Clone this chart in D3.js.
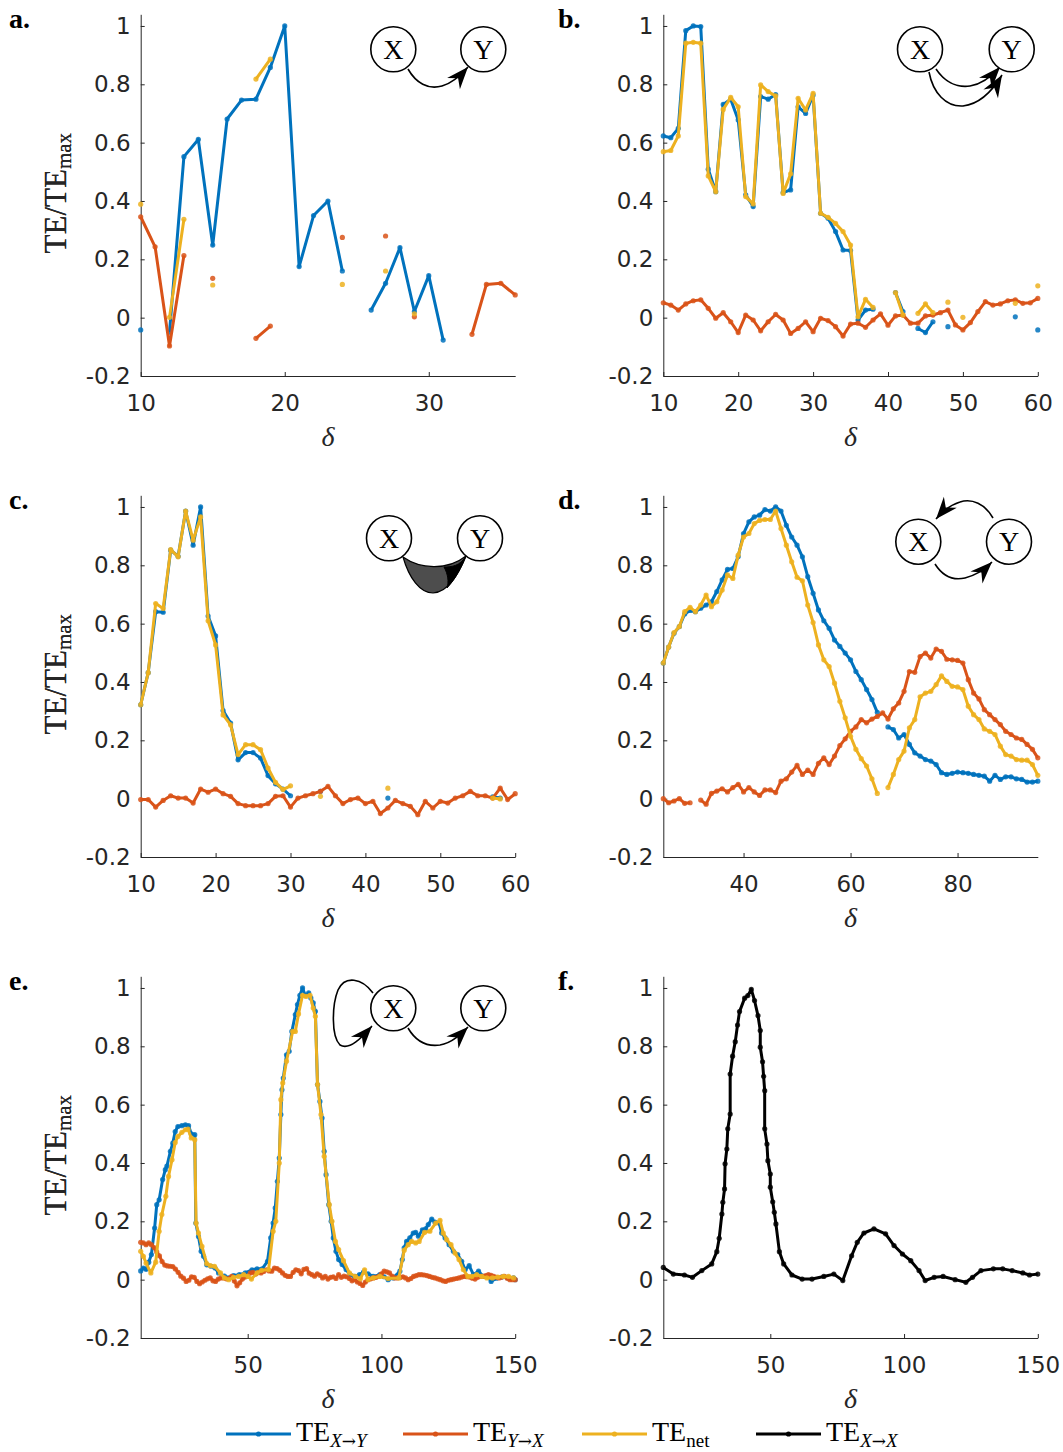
<!DOCTYPE html>
<html>
<head>
<meta charset="utf-8">
<script src="https://cdn.jsdelivr.net/npm/d3@7"></script>
<style>
body { margin: 0; background: #fff; }
</style>
</head>
<body>
<svg id="fig"></svg>
<script>
// ---- data ----
var yTicks = [-0.2, 0, 0.2, 0.4, 0.6, 0.8, 1];

// panel a, delta = 10..36
var aDelta = d3.range(10, 37);
var aBlue = [-0.042, null, -0.05, 0.552, 0.611, 0.249, 0.681, 0.746, 0.749, 0.858, 1.0, 0.175, 0.35, 0.4, 0.16, null, 0.026, 0.118, 0.24, 0.021, 0.144, -0.077, null, null, null, null, null];
var aRed = [0.346, 0.243, -0.097, 0.213, null, 0.135, null, null, -0.071, -0.029, null, null, null, null, 0.275, null, null, 0.28, null, 0.003, null, null, null, -0.057, 0.114, 0.118, 0.078];
var aNet = [0.389, null, 0.001, 0.337, null, 0.112, null, null, 0.818, 0.886, null, null, null, null, 0.114, null, null, 0.16, null, 0.013, null, null, null, null, null, null, null];

// panel b, delta = 10..60
var bDelta = d3.range(10, 61);
var bBlue = [0.623, 0.617, 0.649, 0.984, 1.0, 0.998, 0.509, 0.432, 0.731, 0.749,
    0.678, 0.421, 0.381, 0.758, 0.749, 0.765, 0.429, 0.438, 0.723, 0.70,
    0.763, 0.358, 0.341, 0.295, 0.232, 0.230, -0.008, 0.026, 0.029, null,
    null, 0.086, 0.021, null, -0.037, -0.051, -0.014, null, -0.031, null,
    null, null, null, null, null, null, null, 0.003, null, null,
    -0.042];
var bRed = [0.051, 0.043, 0.026, 0.047, 0.058, 0.061, 0.032, -0.002, 0.017, -0.014,
    -0.051, 0.009, -0.008, -0.045, -0.014, 0.011, -0.008, -0.054, -0.037, -0.014,
    -0.048, -0.002, -0.010, -0.031, -0.063, -0.022, -0.019, -0.033, -0.008, 0.013,
    -0.026, 0.006, 0.009, -0.019, -0.019, 0.006, 0.009, 0.017, 0.026, -0.025,
    -0.042, -0.017, 0.021, 0.055, 0.043, 0.047, 0.058, 0.061, 0.049, 0.051,
    0.066];
var bNet = [0.569, 0.573, 0.623, 0.941, 0.944, 0.941, 0.486, 0.432, 0.714, 0.755,
    0.723, 0.415, 0.39, 0.798, 0.775, 0.76, 0.426, 0.493, 0.752, 0.712,
    0.769, 0.358, 0.344, 0.323, 0.295, 0.249, 0.003, 0.063, 0.035, null,
    null, 0.086, 0.009, null, 0.015, 0.047, 0.017, null, 0.053, null,
    0.001, null, null, null, null, null, null, 0.049, null, null,
    0.109];

// panel c, delta = 10..60
var cDelta = d3.range(10, 61);
var cBlue = [0.322, 0.432, 0.641, 0.639, 0.852, 0.831, 0.986, 0.869, 1.0, 0.626,
    0.558, 0.302, 0.259, 0.133, 0.158, 0.158, 0.139, 0.079, 0.051, 0.033,
    0.01, null, null, null, 0.025, null, null, null, null, null,
    null, null, null, 0.002, null, null, null, null, null, null,
    null, null, null, null, null, null, null, 0.006, 0.002, null,
    null];
var cRed = [-0.003, -0.003, -0.029, -0.006, 0.01, 0.002, 0.002, -0.015, 0.033, 0.022,
    0.033, 0.017, 0.008, -0.017, -0.024, -0.024, -0.024, -0.017, 0.008, 0.01,
    -0.029, 0.002, 0.01, 0.017, 0.025, 0.042, 0.01, -0.017, -0.003, 0.002,
    -0.017, -0.009, -0.051, -0.032, -0.006, -0.017, -0.026, -0.055, -0.009, -0.032,
    -0.009, -0.015, 0.002, 0.01, 0.025, 0.01, 0.01, 0.002, 0.036, -0.003,
    0.017];
var cNet = [0.322, 0.432, 0.669, 0.652, 0.854, 0.829, 0.986, 0.886, 0.966, 0.61,
    0.527, 0.287, 0.253, 0.151, 0.185, 0.185, 0.168, 0.105, 0.056, 0.031,
    0.044, null, null, null, 0.008, null, null, null, null, null,
    null, null, null, 0.036, null, null, null, null, null, null,
    null, null, null, null, null, null, null, 0.002, -0.001, null,
    null];

// panel d, delta = 25..95
var dDelta = d3.range(25, 96);
var dBlue = [0.465, 0.52, 0.567, 0.59, 0.633, 0.645, 0.641, 0.653, 0.664, 0.675,
    0.71, 0.75, 0.786, 0.789, 0.83, 0.909, 0.949, 0.966, 0.972, 0.991,
    0.986, 1.0, 0.986, 0.937, 0.897, 0.869, 0.829, 0.761, 0.704, 0.647,
    0.61, 0.584, 0.544, 0.522, 0.499, 0.476, 0.436, 0.408, 0.374, 0.34,
    0.296, null, 0.246, 0.237, 0.208, 0.22, 0.186, 0.157, 0.146, 0.134,
    0.129, 0.117, 0.089, 0.083, 0.087, 0.091, 0.089, 0.087, 0.083, 0.08,
    0.077, 0.06, 0.08, 0.066, 0.075, 0.075, 0.068, 0.066, 0.057, 0.057,
    0.06];
var dRed = [0.0, -0.014, -0.008, 0.0, -0.016, -0.014, null, -0.005, -0.019, 0.018,
    0.026, 0.034, 0.023, 0.038, 0.049, 0.023, 0.038, 0.023, 0.011, 0.03,
    0.03, 0.021, 0.06, 0.068, 0.091, 0.114, 0.083, 0.098, 0.083, 0.121,
    0.14, 0.117, 0.146, 0.182, 0.205, 0.231, 0.246, 0.271, 0.26, 0.273,
    0.282, 0.294, 0.273, 0.308, 0.328, 0.368, 0.436, 0.433, 0.487, 0.499,
    0.482, 0.513, 0.505, 0.478, 0.476, 0.474, 0.465, 0.408, 0.362, 0.342,
    0.305, 0.288, 0.271, 0.254, 0.231, 0.22, 0.208, 0.203, 0.186, 0.169,
    0.14];
var dNet = [0.465, 0.52, 0.569, 0.59, 0.641, 0.656, 0.641, 0.664, 0.698, 0.658,
    0.675, 0.715, 0.767, 0.755, 0.835, 0.897, 0.909, 0.943, 0.954, 0.957,
    0.957, 0.986, 0.926, 0.869, 0.812, 0.759, 0.747, 0.664, 0.604, 0.527,
    0.476, 0.453, 0.396, 0.334, 0.277, 0.214, 0.169, 0.137, 0.112, 0.068,
    0.018, null, 0.038, 0.083, 0.134, 0.163, 0.243, 0.271, 0.349, 0.362,
    0.368, 0.391, 0.421, 0.402, 0.385, 0.383, 0.374, 0.317, 0.288, 0.271,
    0.239, 0.231, 0.22, 0.18, 0.151, 0.146, 0.134, 0.132, 0.132, 0.117,
    0.08];

// panel e (uneven delta sampling)
var eBlueDelta = [10, 11, 12, 13, 14, 15.2, 16.0, 16.9, 18.2, 19.2, 19.8, 21.1, 22.0, 22.9, 23.9, 25.4, 26.7, 27.9, 28.9, 30.2,
    30.6, 31.6, 32.6, 33.5, 34.7, 36.3, 37.8, 39.1, 41.3, 42.9, 44.7, 46.9, 49.1, 51.6, 53.5, 55.4, 57.4, 58.6, 59.5, 60.3,
    61.1, 61.8, 62.4, 62.8, 63.3, 64.5, 65.5, 66.5, 67.8, 68.6, 69.5, 70.5, 71.5, 72.8, 73.6, 74.5, 75.3, 76.1, 77.0, 77.8,
    78.6, 79.3, 80.3, 81.2, 82.0, 83.0, 84.0, 85.3, 86.8, 88.3, 89.9, 91.8, 93.3, 95, 96.9, 99.4, 101, 102.5, 104.4, 106.9,
    107.8, 108.5, 109.4, 110.6, 111.9, 112.8, 113.8, 115.3, 116.5, 117.5, 118.8, 120, 121.6, 122.5, 123.8, 125.3, 126.9, 128.5, 130, 131.3,
    132.8, 134.4, 136.3, 138.1, 139.7, 141, 143, 145, 147.3, 149.4, 150];
var eBlue = [0.03, 0.04, 0.035, 0.06, 0.086, 0.177, 0.257, 0.274, 0.343, 0.377, 0.389, 0.44, 0.468, 0.508, 0.525, 0.528, 0.531, 0.528, 0.5, 0.497,
    0.194, 0.148, 0.097, 0.08, 0.051, 0.046, 0.04, 0.023, 0.012, 0.006, 0.014, 0.017, 0.023, 0.034, 0.037, 0.037, 0.063, 0.143, 0.194, 0.246,
    0.337, 0.417, 0.566, 0.651, 0.691, 0.771, 0.783, 0.851, 0.909, 0.943, 0.975, 1.0, 0.975, 0.983, 0.966, 0.949, 0.92, 0.669, 0.611, 0.554,
    0.44, 0.36, 0.257, 0.2, 0.143, 0.097, 0.069, 0.052, 0.034, 0.017, 0.011, 0.017, 0.026, 0.02, 0.011, 0.017, 0.01, 0.0, 0.006, 0.029,
    0.069, 0.109, 0.131, 0.143, 0.16, 0.162, 0.149, 0.171, 0.174, 0.189, 0.208, 0.197, 0.194, 0.16, 0.143, 0.12, 0.097, 0.086, 0.063, 0.034,
    0.048, 0.017, 0.029, 0.011, 0.011, -0.006, 0.005, 0.009, 0.006, 0.006, 0.0];
var eNetDelta = [10, 11, 12, 13.8, 15.6, 16.9, 17.9, 19.4, 20.4, 21.7, 22.9, 23.9, 25.4, 26.7, 27.7, 28.9, 30.2, 30.7, 31.6, 32.9,
    34.7, 36, 37.6, 39.8, 41.3, 42.9, 44.7, 46.6, 48.5, 50.1, 51.4, 53.5, 55.2, 57.8, 59.5, 60.5, 61.8, 62.4, 63.1, 64.5,
    66.8, 67.8, 69, 70.5, 71.8, 73.3, 74.5, 75.3, 76.1, 77.4, 78.6, 80.5, 81.5, 82.8, 84, 85.8, 88, 90.3, 92.1, 93.7,
    95, 96.9, 99.4, 102.5, 106.5, 108.5, 110, 111.3, 112.8, 114.1, 116.1, 118.1, 120.3, 121.9, 123.1, 124.4, 126, 127.5, 129, 130.6,
    132.3, 133.8, 135.6, 137.5, 139.4, 141.5, 143.5, 145.6, 147.5, 149.4];
var eNet = [0.097, 0.08, 0.057, 0.023, 0.06, 0.166, 0.223, 0.286, 0.354, 0.411, 0.47, 0.491, 0.505, 0.514, 0.516, 0.486, 0.48, 0.194, 0.16, 0.114,
    0.055, 0.048, 0.046, 0.023, 0.006, 0.0, 0.008, 0.011, 0.017, 0.011, 0.002, 0.023, 0.032, 0.034, 0.166, 0.2, 0.4, 0.617, 0.674, 0.749,
    0.851, 0.851, 0.911, 0.975, 0.971, 0.975, 0.931, 0.903, 0.669, 0.566, 0.423, 0.257, 0.2, 0.131, 0.103, 0.065, 0.023, 0.011, 0.003, 0.034,
    0.0, 0.006, 0.011, 0.004, 0.006, 0.101, 0.12, 0.131, 0.126, 0.131, 0.162, 0.166, 0.194, 0.203, 0.16, 0.137, 0.12, 0.091, 0.069, 0.034,
    0.011, 0.011, 0.017, 0.011, 0.006, 0.006, 0.009, 0.011, 0.011, 0.006];
var eRedDelta = d3.range(10, 151);
var eRed = [0.128, 0.126, 0.12, 0.126, 0.12, 0.11, 0.095, 0.082, 0.062, 0.05,
    0.047, 0.046, 0.045, 0.036, 0.025, 0.012, 0.005, -0.006, -0.002, 0.01,
    0.008, -0.006, -0.014, -0.008, -0.002, 0.003, 0.006, -0.004, -0.006, 0.002,
    0.006, 0.006, 0.003, 0.004, 0.011, -0.005, -0.021, -0.011, 0.002, 0.009,
    0.012, 0.023, 0.025, 0.019, 0.025, 0.023, 0.028, 0.034, 0.03, 0.029,
    0.04, 0.038, 0.032, 0.023, 0.015, 0.011, 0.011, 0.025, 0.034, 0.031,
    0.02, 0.035, 0.038, 0.022, 0.017, 0.012, 0.02, 0.015, 0.006, 0.011,
    0.002, 0.008, 0.01, 0.004, 0.017, 0.008, 0.012, 0.01, 0.004, -0.004,
    0.0, -0.008, -0.013, -0.02, -0.008, 0.0, 0.003, 0.006, 0.008, 0.011,
    0.02, 0.029, 0.027, 0.023, 0.012, 0.006, 0.006, 0.007, 0.01, 0.006,
    0.0, 0.004, 0.011, 0.014, 0.017, 0.017, 0.016, 0.014, 0.011, 0.008,
    0.006, 0.003, 0.0, -0.004, -0.006, -0.002, 0.0, 0.002, 0.004, 0.006,
    0.009, 0.011, 0.01, 0.009, 0.005, 0.002, 0.008, 0.011, 0.011, 0.014,
    0.017, 0.015, 0.011, 0.008, 0.006, 0.009, 0.011, 0.005, 0.0, 0.0,
    0.0];

// panel f
var fDelta = [10, 13.75, 17.9, 20.9, 24.4, 28.1, 30, 30.9, 31.9, 32.25, 32.9, 33.1, 33.75, 34.1, 35, 35, 35.9, 36.9, 37.75, 38.5,
    40.4, 41.6, 42.9, 44.1, 45.4, 46.25, 46.25, 47.1, 47.5, 47.9, 47.9, 48.75, 49.1, 50, 50, 50.9, 51.5, 52.1, 53.4, 55,
    58.1, 61.9, 65.6, 70, 73.75, 77.1, 80.4, 82.5, 85, 88.75, 93.1, 96.25, 99.4, 102.5, 105.6, 107.9, 111.25, 114.6, 119.1, 123.1,
    125.6, 128.75, 133.4, 136.9, 140.4, 144.4, 146.9, 150];
var fSelf = [0.042, 0.019, 0.016, 0.008, 0.031, 0.054, 0.096, 0.142, 0.225, 0.265, 0.311, 0.397, 0.448, 0.517, 0.568, 0.705, 0.766, 0.816, 0.873, 0.919,
    0.965, 0.974, 0.995, 0.957, 0.905, 0.854, 0.797, 0.747, 0.697, 0.648, 0.517, 0.465, 0.408, 0.362, 0.317, 0.267, 0.231, 0.191, 0.096, 0.054,
    0.016, 0.002, 0.002, 0.011, 0.019, -0.003, 0.082, 0.128, 0.16, 0.174, 0.157, 0.117, 0.088, 0.065, 0.031, -0.003, 0.008, 0.011, 0.0, -0.009,
    0.008, 0.031, 0.037, 0.037, 0.031, 0.023, 0.016, 0.019];

var colors = { blue: '#0072BD', red: '#D95319', net: '#EDB120', self: '#000000' };
var legendLabels = [
    { key: 'blue', sub: ['X', 'Y'] },
    { key: 'red', sub: ['Y', 'X'] },
    { key: 'net', sub: null },
    { key: 'self', sub: ['X', 'X'] }
];

// ---- layout ----
var width = 1063, height = 1452;
var colLeft = [140.7, 663.3], plotW = 374.5;
var rowStep = 481, yBottom0 = 376, yTop0 = 14.3;
var axisColor = '#262626';
var tickFont = "'DejaVu Sans', sans-serif";
var serif = "'Liberation Serif', 'DejaVu Serif', serif";
var lineW = 3, dotR = 2.6;

var panels = [
    { label: 'a.', col: 0, row: 0, xDomain: [10, 36], xTicks: [10, 20, 30],
      series: [[aDelta, aBlue, 'blue'], [aDelta, aRed, 'red'], [aDelta, aNet, 'net']] },
    { label: 'b.', col: 1, row: 0, xDomain: [10, 60], xTicks: [10, 20, 30, 40, 50, 60],
      series: [[bDelta, bBlue, 'blue'], [bDelta, bRed, 'red'], [bDelta, bNet, 'net']] },
    { label: 'c.', col: 0, row: 1, xDomain: [10, 60], xTicks: [10, 20, 30, 40, 50, 60],
      series: [[cDelta, cBlue, 'blue'], [cDelta, cRed, 'red'], [cDelta, cNet, 'net']] },
    { label: 'd.', col: 1, row: 1, xDomain: [25, 95], xTicks: [40, 60, 80],
      series: [[dDelta, dBlue, 'blue'], [dDelta, dRed, 'red'], [dDelta, dNet, 'net']] },
    { label: 'e.', col: 0, row: 2, xDomain: [10, 150], xTicks: [50, 100, 150],
      series: [[eBlueDelta, eBlue, 'blue'], [eRedDelta, eRed, 'red'], [eNetDelta, eNet, 'net']] },
    { label: 'f.', col: 1, row: 2, xDomain: [10, 150], xTicks: [50, 100, 150],
      series: [[fDelta, fSelf, 'self']] }
];

var svg = d3.select('#fig')
    .attr('width', width)
    .attr('height', height)
    .style('font-family', tickFont);

var defs = svg.append('defs');
defs.append('marker')
    .attr('id', 'arrow')
    .attr('viewBox', '-23 -9 24 18')
    .attr('refX', 0)
    .attr('refY', 0)
    .attr('markerUnits', 'userSpaceOnUse')
    .attr('markerWidth', 24)
    .attr('markerHeight', 18)
    .attr('orient', 'auto')
    .append('path')
    .attr('d', 'M0,0 L-22,-8.5 L-15,0 L-22,8.5 Z')
    .attr('fill', '#000');

panels.forEach(function (p) {
    var left = colLeft[p.col];
    var off = p.row * rowStep;
    var x = d3.scaleLinear().domain(p.xDomain).range([left, left + plotW]);
    var y = d3.scaleLinear().domain([-0.2, 1.04]).range([yBottom0 + off, yTop0 + off]);

    var g = svg.append('g');

    // axes (MATLAB style, ticks inward, no box)
    var yAxis = g.append('g')
        .attr('transform', 'translate(' + left + ',0)')
        .call(d3.axisLeft(y).tickValues(yTicks).tickSize(-4).tickSizeOuter(0).tickPadding(10)
            .tickFormat(function (d) { return String(d); }));
    var xAxis = g.append('g')
        .attr('transform', 'translate(0,' + (yBottom0 + off) + ')')
        .call(d3.axisBottom(x).tickValues(p.xTicks).tickSize(-4).tickSizeOuter(0).tickPadding(19)
            .tickFormat(function (d) { return String(d); }));
    [yAxis, xAxis].forEach(function (ax) {
        ax.attr('font-family', tickFont).attr('font-size', 23);
        ax.select('.domain').attr('stroke', axisColor);
        ax.selectAll('.tick line').attr('stroke', axisColor);
        ax.selectAll('.tick text').attr('fill', axisColor);
    });

    // axis labels
    var yl = g.append('text')
        .attr('transform', 'translate(66,' + ((yBottom0 + yTop0) / 2 + off - 2) + ') rotate(-90)')
        .attr('text-anchor', 'middle')
        .attr('font-family', serif)
        .attr('font-size', 31)
        .attr('fill', axisColor);
    yl.append('tspan').text('TE/TE');
    yl.append('tspan').attr('font-size', 21).attr('dy', 5).text('max');

    g.append('text')
        .attr('x', left + plotW / 2)
        .attr('y', 446 + off)
        .attr('text-anchor', 'middle')
        .attr('font-family', serif)
        .attr('font-style', 'italic')
        .attr('font-size', 28)
        .attr('fill', axisColor)
        .text('\u03b4');

    g.append('text')
        .attr('x', p.col === 0 ? 9 : 558)
        .attr('y', 28 + off)
        .attr('font-family', serif)
        .attr('font-weight', 'bold')
        .attr('font-size', 28)
        .attr('fill', '#000')
        .text(p.label);

    // series: blue, red, then yellow on top
    p.series.forEach(function (s) {
        var pts = s[0].map(function (d, i) { return [d, s[1][i]]; });
        var col = colors[s[2]];
        var line = d3.line()
            .defined(function (d) { return d[1] !== null; })
            .x(function (d) { return x(d[0]); })
            .y(function (d) { return y(d[1]); });
        g.append('path')
            .attr('d', line(pts))
            .attr('fill', 'none')
            .attr('stroke', col)
            .attr('stroke-width', lineW)
            .attr('stroke-linejoin', 'round');
        g.append('g').selectAll('circle')
            .data(pts.filter(function (d) { return d[1] !== null; }))
            .join('circle')
            .attr('cx', function (d) { return x(d[0]); })
            .attr('cy', function (d) { return y(d[1]); })
            .attr('r', dotR)
            .attr('fill', col)
            .attr('fill-opacity', 0.85);
    });
});

// ---- network sketches ----
var sk = svg.append('g').attr('stroke', '#000').attr('fill', 'none').attr('stroke-width', 1.6);

function arrowPath(d) {
    sk.append('path').attr('d', d).attr('marker-end', 'url(#arrow)');
}
// a: X -> Y
arrowPath('M408,69 C416,83 428,90 442,86 C453,83 461,75 468,67');
// b: two paths X -> Y
arrowPath('M936,69 C944,81 956,88 970,86 C983,84 992,76 1000,67');
arrowPath('M929,72 C933,93 946,107 963,106 C980,104 993,90 1002,75');
// c: filled wedge
sk.append('path')
    .attr('d', 'M403,557 C420,569 447,571 466,556 C458,574 449,592 433,593 C420,593 409,578 403,557 Z')
    .attr('fill', '#4d4d4d').attr('stroke-width', 1.2);
sk.append('path')
    .attr('d', 'M466,556 C460,566 452,567 444,567 C448,574 449,582 447,588 C456,578 462,567 466,556 Z')
    .attr('fill', '#000').attr('stroke-width', 1);
// d: Y -> X above, X -> Y below
arrowPath('M993,518 C985,504 972,498 960,502 C950,505 942,512 936,519');
arrowPath('M935,564 C942,575 952,581 965,578 C977,575 985,569 992,562');
// e: self loop on X, X -> Y
arrowPath('M373,993 C362,978 345,975 338,990 C332,1005 331,1036 340,1045 C350,1051 363,1036 372,1026');
arrowPath('M408,1028 C415,1040 426,1047 440,1045 C452,1043 461,1034 468,1027');

var nodes = [
    ['X', 393.3, 49.3], ['Y', 483.3, 49.3],
    ['X', 920, 49.3], ['Y', 1011.7, 49.3],
    ['X', 389, 538.3], ['Y', 480, 538.3],
    ['X', 918.3, 541.7], ['Y', 1009, 541.7],
    ['X', 393.3, 1008.3], ['Y', 483.3, 1008.3]
];
nodes.forEach(function (n) {
    svg.append('circle')
        .attr('cx', n[1]).attr('cy', n[2]).attr('r', 22.5)
        .attr('fill', '#fff').attr('stroke', '#000').attr('stroke-width', 1.6);
    svg.append('text')
        .attr('x', n[1]).attr('y', n[2] + 9.5)
        .attr('text-anchor', 'middle')
        .attr('font-family', serif)
        .attr('font-size', 28)
        .attr('fill', '#000')
        .text(n[0]);
});

// ---- legend ----
var legendX = [226, 403, 582, 756];
var legendY = 1434;
legendLabels.forEach(function (l, i) {
    var x0 = legendX[i];
    var col = colors[l.key];
    svg.append('line')
        .attr('x1', x0).attr('x2', x0 + 65)
        .attr('y1', legendY).attr('y2', legendY)
        .attr('stroke', col).attr('stroke-width', lineW);
    svg.append('circle')
        .attr('cx', x0 + 32.5).attr('cy', legendY).attr('r', dotR)
        .attr('fill', col);
    var t = svg.append('text')
        .attr('x', x0 + 70).attr('y', legendY + 7)
        .attr('font-family', serif)
        .attr('font-size', 28)
        .attr('fill', '#000');
    t.append('tspan').text('TE');
    if (l.sub) {
        t.append('tspan').attr('dy', 6).attr('font-size', 19).attr('font-style', 'italic').text(l.sub[0]);
        t.append('tspan').attr('font-size', 17).attr('font-family', "'DejaVu Serif', serif").text('\u2192');
        t.append('tspan').attr('font-size', 19).attr('font-style', 'italic').text(l.sub[1]);
    } else {
        t.append('tspan').attr('dy', 6).attr('font-size', 19).text('net');
    }
});
</script>
</body>
</html>
